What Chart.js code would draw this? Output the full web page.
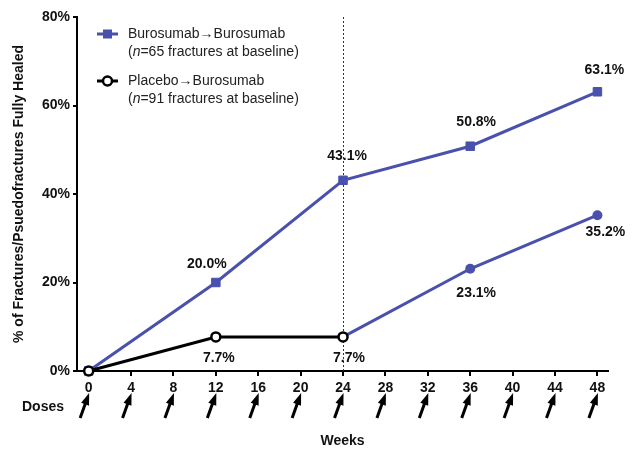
<!DOCTYPE html>
<html><head><meta charset="utf-8">
<script src="https://cdn.jsdelivr.net/npm/chart.js@4/dist/chart.umd.min.js"></script>
<style>html,body{margin:0;padding:0;background:#fff}</style>
</head><body>
<canvas id="c" width="639" height="451"></canvas>
<script>
// ---- data ----
const weeks = [0, 12, 24, 36, 48];
const buroBuro = [0, 20.0, 43.1, 50.8, 63.1];
const placeboPhase = [0, 7.7, 7.7, null, null];          // placebo period (black)
const placeboBuroPhase = [null, null, 7.7, 23.1, 35.2];  // after switch to burosumab (blue)
const buroLabels = ['', '20.0%', '43.1%', '50.8%', '63.1%'];
const placeboLabels = ['', '7.7%', '7.7%', '23.1%', '35.2%'];
const tickWeeks = [0, 4, 8, 12, 16, 20, 24, 28, 32, 36, 40, 44, 48];
const doseWeeks = [0, 4, 8, 12, 16, 20, 24, 28, 32, 36, 40, 44, 48];
const yTicks = [0, 20, 40, 60, 80];
const switchWeek = 24;
const legendLines = [
  ['Burosumab\u2192Burosumab', '=65 fractures at baseline)'],
  ['Placebo\u2192Burosumab', '=91 fractures at baseline)']
];

// ---- styling (not data) ----
const BLUE = '#4a51ad';
const FONT = '"Liberation Sans", Arial, Helvetica, sans-serif';
const buroLabelOffsets = [[0,0],[-9,-18],[4,-24],[6,-24],[7,-22]];
const placeboLabelOffsets = [[0,0],[3,21],[6,21],[6,24],[8,17]];

function pts(arr){ return weeks.map((w,i)=>({x:w, y:arr[i]})).filter(p=>p.y!==null); }

const overlay = {
  id: 'overlay',
  beforeDatasetsDraw(chart){
    const {ctx, chartArea, scales:{x}} = chart;
    const px = Math.round(x.getPixelForValue(switchWeek)) + 0.5;
    ctx.save();
    ctx.strokeStyle = '#333'; ctx.lineWidth = 1; ctx.setLineDash([2,2]);
    ctx.beginPath(); ctx.moveTo(px, chartArea.top); ctx.lineTo(px, chartArea.bottom); ctx.stroke();
    ctx.restore();
  },
  afterDatasetsDraw(chart){
    const {ctx, scales:{x, y}} = chart;
    ctx.save();
    ctx.font = 'bold 14px ' + FONT;
    ctx.fillStyle = '#111'; ctx.textAlign = 'center'; ctx.textBaseline = 'middle';
    weeks.forEach((w,i)=>{
      if (buroLabels[i]) {
        ctx.fillText(buroLabels[i], x.getPixelForValue(w)+buroLabelOffsets[i][0], y.getPixelForValue(buroBuro[i])+buroLabelOffsets[i][1]);
      }
      const pv = placeboPhase[i] !== null ? placeboPhase[i] : placeboBuroPhase[i];
      if (placeboLabels[i]) {
        ctx.fillText(placeboLabels[i], x.getPixelForValue(w)+placeboLabelOffsets[i][0], y.getPixelForValue(pv)+placeboLabelOffsets[i][1]);
      }
    });
    ctx.restore();
  },
  afterDraw(chart){
    const {ctx, chartArea, scales:{x}} = chart;
    ctx.save();
    // Doses label
    ctx.font = 'bold 14px ' + FONT; ctx.fillStyle = '#111';
    ctx.textAlign = 'left'; ctx.textBaseline = 'middle';
    ctx.fillText('Doses', 22, chartArea.bottom + 36);
    // dose arrows
    ctx.strokeStyle = '#000'; ctx.fillStyle = '#000'; ctx.lineWidth = 3;
    doseWeeks.forEach(w=>{
      const px = x.getPixelForValue(w);
      const tip = {x: px + 0.5, y: chartArea.bottom + 22};
      const tail = {x: px - 8.5, y: chartArea.bottom + 47};
      const ang = Math.atan2(tip.y - tail.y, tip.x - tail.x);
      const hl = 12, hw = 4.2;
      const bx = tip.x - hl*Math.cos(ang), by = tip.y - hl*Math.sin(ang);
      const nx = -Math.sin(ang), ny = Math.cos(ang);
      ctx.beginPath(); ctx.moveTo(tail.x, tail.y); ctx.lineTo(bx + (tip.x-bx)*0.2, by + (tip.y-by)*0.2); ctx.stroke();
      ctx.beginPath(); ctx.moveTo(tip.x, tip.y);
      ctx.lineTo(bx + nx*hw, by + ny*hw); ctx.lineTo(bx - nx*hw, by - ny*hw); ctx.closePath(); ctx.fill();
    });
    // legend
    const lx = 97, lw = 21;
    const rows = [{y:34, color:BLUE}, {y:81, color:'#000'}];
    rows.forEach((r, i)=>{
      ctx.strokeStyle = r.color; ctx.lineWidth = 3;
      ctx.beginPath(); ctx.moveTo(lx, r.y); ctx.lineTo(lx+lw, r.y); ctx.stroke();
      if (i === 0) {
        ctx.fillStyle = BLUE; ctx.fillRect(lx + lw/2 - 4.5, r.y - 4.5, 9, 9);
      } else {
        ctx.beginPath(); ctx.arc(lx + lw/2, r.y, 4.5, 0, Math.PI*2);
        ctx.fillStyle = '#fff'; ctx.fill(); ctx.lineWidth = 2.5; ctx.strokeStyle = '#000'; ctx.stroke();
      }
      ctx.fillStyle = '#222'; ctx.textAlign = 'left'; ctx.textBaseline = 'middle';
      ctx.font = '14px ' + FONT;
      const tx = 128;
      ctx.fillText(legendLines[i][0], tx, r.y);
      const y2 = r.y + 18;
      ctx.fillText('(', tx, y2);
      let cx = tx + ctx.measureText('(').width;
      ctx.font = 'italic 14px ' + FONT;
      ctx.fillText('n', cx, y2);
      cx += ctx.measureText('n').width;
      ctx.font = '14px ' + FONT;
      ctx.fillText(legendLines[i][1], cx, y2);
    });
    ctx.restore();
  }
};

new Chart(document.getElementById('c'), {
  type: 'line',
  data: {
    datasets: [
      {
        label: 'Placebo\u2192Burosumab',
        data: pts(placeboPhase),
        borderColor: '#000', borderWidth: 3,
        pointStyle: 'circle', pointRadius: 4.5, pointBorderWidth: 2.5,
        pointBackgroundColor: '#fff', pointBorderColor: '#000',
        tension: 0, clip: false
      },
      {
        label: 'Placebo\u2192Burosumab (open-label)',
        data: pts(placeboBuroPhase),
        borderColor: BLUE, borderWidth: 3,
        pointStyle: 'circle',
        pointRadius: ctx => ctx.dataIndex === 0 ? 0 : 5,
        pointBorderWidth: 0, pointBackgroundColor: BLUE, pointBorderColor: BLUE,
        tension: 0, clip: false
      },
      {
        label: 'Burosumab\u2192Burosumab',
        data: pts(buroBuro),
        borderColor: BLUE, borderWidth: 3,
        pointStyle: 'rect', pointRadius: 6, pointBorderWidth: 1,
        pointBackgroundColor: BLUE, pointBorderColor: BLUE,
        tension: 0, clip: false
      }
    ]
  },
  options: {
    responsive: false,
    animation: false,
    layout: { padding: { left: 0, right: 31, top: 17, bottom: 0 } },
    plugins: { legend: { display: false }, tooltip: { enabled: false } },
    scales: {
      x: {
        type: 'linear', min: -1.1, max: 49,
        afterBuildTicks: s => { s.ticks = tickWeeks.map(v => ({value: v})); },
        afterFit: s => { s.height = 80; },
        grid: { drawOnChartArea: false, drawTicks: true, tickLength: 5, color: '#000', lineWidth: 2 },
        border: { display: true, color: '#000', width: 2 },
        ticks: { color: '#111', font: { family: FONT, size: 14, weight: 'bold' }, padding: 4, maxRotation: 0, autoSkip: false },
        title: { display: true, text: 'Weeks', color: '#111', font: { family: FONT, size: 14, weight: 'bold' }, padding: { top: 2, bottom: 1 } }
      },
      y: {
        min: 0, max: 80,
        afterBuildTicks: s => { s.ticks = yTicks.map(v => ({value: v})); },
        afterFit: s => { s.width = 77; },
        grid: { drawOnChartArea: false, drawTicks: true, tickLength: 4, color: '#000', lineWidth: 2 },
        border: { display: true, color: '#000', width: 2 },
        ticks: { color: '#111', font: { family: FONT, size: 14, weight: 'bold' }, padding: 3, callback: v => v + '%' },
        title: { display: true, text: '% of Fractures/Psuedofractures Fully Healed', color: '#111', font: { family: FONT, size: 14, weight: 'bold' }, padding: { top: 11, bottom: 0 } }
      }
    }
  },
  plugins: [overlay]
});
</script>
</body></html>
